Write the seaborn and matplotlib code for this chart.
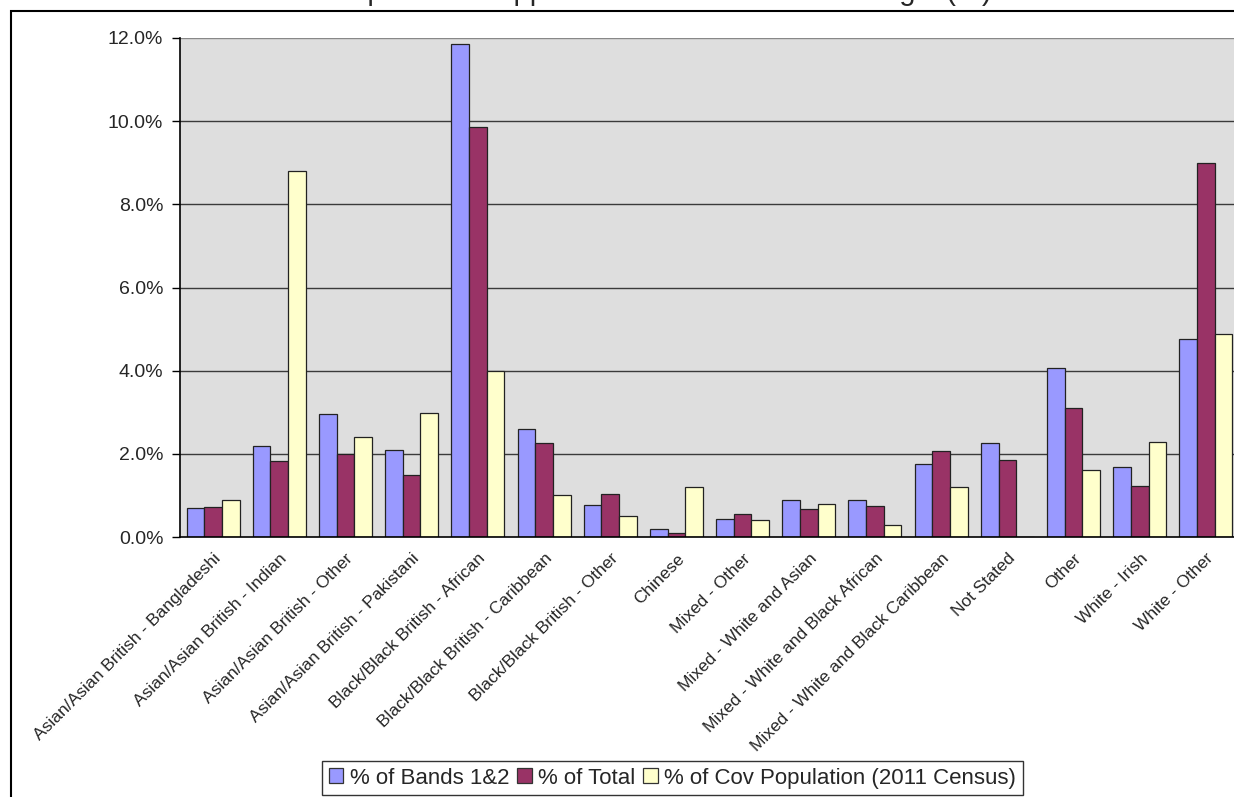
import matplotlib
matplotlib.use("Agg")
import matplotlib.pyplot as plt
import seaborn as sns
import pandas as pd
import numpy as np
from matplotlib.patches import Rectangle, Patch
from matplotlib.ticker import FixedLocator

categories = [
    "Asian/Asian British - Bangladeshi",
    "Asian/Asian British - Indian",
    "Asian/Asian British - Other",
    "Asian/Asian British - Pakistani",
    "Black/Black British - African",
    "Black/Black British - Caribbean",
    "Black/Black British - Other",
    "Chinese",
    "Mixed - Other",
    "Mixed - White and Asian",
    "Mixed - White and Black African",
    "Mixed - White and Black Caribbean",
    "Not Stated",
    "Other",
    "White - Irish",
    "White - Other",
]
series_names = ["% of Bands 1&2", "% of Total", "% of Cov Population (2011 Census)"]
bands12 = [0.70, 2.18, 2.95, 2.10, 11.86, 2.60, 0.78, 0.20, 0.43, 0.90, 0.90, 1.75, 2.26, 4.06, 1.68, 4.76]
total = [0.72, 1.82, 1.99, 1.48, 9.87, 2.26, 1.03, 0.09, 0.55, 0.68, 0.74, 2.07, 1.85, 3.10, 1.22, 9.00]
cov_pop = [0.90, 8.80, 2.40, 2.98, 3.99, 1.00, 0.50, 1.20, 0.41, 0.80, 0.30, 1.20, 0.00, 1.60, 2.29, 4.88]
colors = ["#9999FF", "#993366", "#FFFFCC"]
yticks = [0, 2, 4, 6, 8, 10, 12]
title = "Proportion of applicants in terms of ethnic origin (%)"

df = pd.DataFrame({
    "category": categories * 3,
    "series": [series_names[0]] * 16 + [series_names[1]] * 16 + [series_names[2]] * 16,
    "value": bands12 + total + cov_pop,
})

sns.set_style("white")
plt.rcParams["font.family"] = ["Liberation Sans", "DejaVu Sans"]

W, H = 1234, 797
fig = plt.figure(figsize=(W / 100, H / 100), dpi=100)
ax_left, ax_right, ax_top, ax_bot = 180, 1239, 38, 537
ax = fig.add_axes([ax_left / W, 1 - ax_bot / H, (ax_right - ax_left) / W, (ax_bot - ax_top) / H])
ax.set_facecolor("#dedede")

sns.barplot(data=df, x="category", y="value", hue="series", order=categories,
            hue_order=series_names, palette=colors, width=0.8, saturation=1,
            edgecolor="#222222", linewidth=0.9, legend=False, ax=ax, zorder=3)

ax.set_ylim(0, 12)
ax.set_xlim(-0.5, 15.5)
ax.set_yticks(yticks)
ax.set_yticklabels([f"{v:.1f}%" for v in yticks], fontsize=14)
for v in yticks[1:]:
    ax.axhline(v, color="#3a3a3a" if v < 12 else "#888888", lw=1.0, zorder=1)

ax.set_xticks(range(len(categories)))
ax.set_xticklabels(categories, rotation=45, ha="right", rotation_mode="anchor", fontsize=12.5)
ax.tick_params(axis="x", which="major", length=0, pad=10)
ax.xaxis.set_minor_locator(FixedLocator(np.arange(-0.5, 16, 1.0)))
ax.tick_params(axis="x", which="minor", length=6, width=1, color="black", direction="out")
ax.tick_params(axis="y", length=6, width=1, color="black", direction="out", left=True, pad=6)
ax.set_xlabel("")
ax.set_ylabel("")
for s in ["top", "right"]:
    ax.spines[s].set_visible(False)
for s in ["left", "bottom"]:
    ax.spines[s].set_color("black")
    ax.spines[s].set_linewidth(1.2)
    ax.spines[s].set_zorder(5)

# outer chart frame
fig.add_artist(Rectangle((11 / W, -0.1), 2, 1 - 11 / H + 0.1, transform=fig.transFigure,
                         fill=False, edgecolor="black", lw=1.5))

# title (cut off at the top edge as in the reference)
fig.text(992 / W, 1 - 0.5 / H, title, ha="right", va="baseline", fontsize=21)

handles = [Patch(facecolor=c, edgecolor="#333333", lw=0.9) for c in colors]
leg = fig.legend(handles, series_names, loc="upper left", bbox_to_anchor=(322 / W, 1 - 761 / H),
                 ncol=3, fontsize=16, frameon=True, fancybox=False, borderpad=0.3,
                 handlelength=0.65, handleheight=0.65, handletextpad=0.3, columnspacing=0.35,
                 borderaxespad=0)
leg.get_frame().set_edgecolor("black")
leg.get_frame().set_linewidth(1.0)

fig.savefig("out.png", dpi=100)
